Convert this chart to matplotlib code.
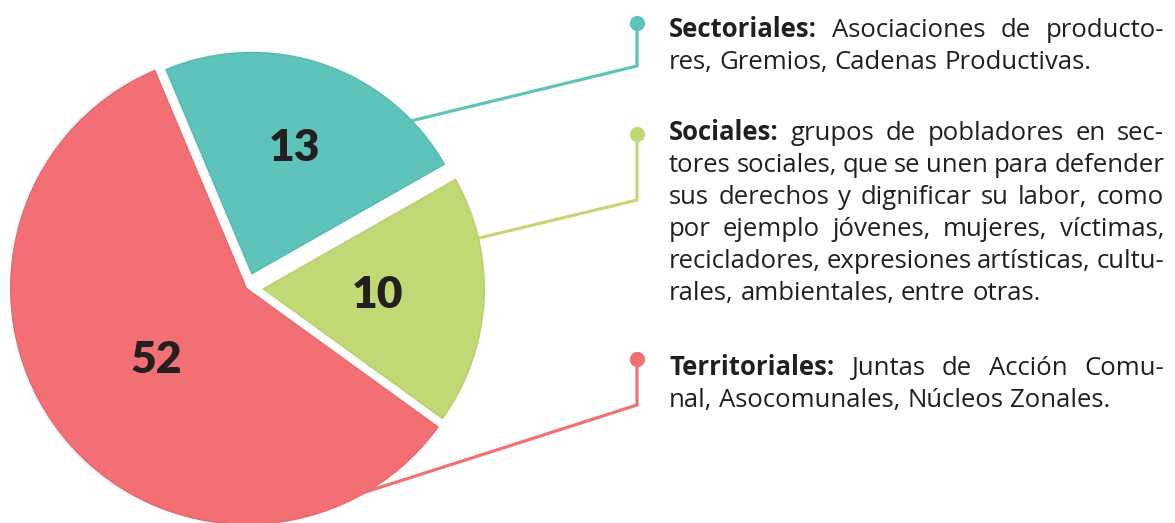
import matplotlib
matplotlib.use("Agg")
import matplotlib.pyplot as plt
from matplotlib.patches import Wedge
import numpy as np

# ---------------- data ----------------
categories = ["Sectoriales", "Sociales", "Territoriales"]
counts = [13, 10, 52]
# angular share of each slice as drawn in the reference (percent of circle)
drawn_share = [23.1, 18.2, 58.7]
colors = ["#5EC4BA", "#C1D975", "#F27074"]
edge_dark = ["#3E9A91", "#97AE52", "#C8585C"]

headers = ["Sectoriales:", "Sociales:", "Territoriales:"]
desc_lines = [
    ["Asociaciones de producto-",
     "res, Gremios, Cadenas Productivas."],
    ["grupos de pobladores en sec-",
     "tores sociales, que se unen para defender",
     "sus derechos y dignificar su labor, como",
     "por ejemplo jóvenes, mujeres, víctimas,",
     "recicladores, expresiones artísticas, cultu-",
     "rales, ambientales, entre otras."],
    ["Juntas de Acción Comu-",
     "nal, Asocomunales, Núcleos Zonales."],
]

# ---------------- layout ----------------
W, H = 1175, 523
FONT = ["Open Sans", "DejaVu Sans"]
NUMFONT = ["Lato", "DejaVu Sans"]
TXT = "#231F20"
FS = 18.5
center = (247, H - 288)
R = 237
wedge_radius = [223, 223, 237]
explode = [14, 15, 0]
label_frac = [0.60, 0.52, 0.49]

fig = plt.figure(figsize=(W / 100, H / 100), dpi=100)
ax = fig.add_axes([0, 0, 1, 1])

wedges, _ = ax.pie(drawn_share, colors=colors, explode=explode,
                   startangle=112.8, counterclock=False, radius=R,
                   center=center, wedgeprops=dict(linewidth=0))
for w, r in zip(wedges, wedge_radius):
    w.set_radius(r)
ax.set_xlim(0, W)
ax.set_ylim(0, H)
ax.set_aspect("equal")
ax.axis("off")

# subtle inner shading along the wedge edges
for w, dc in zip(wedges, edge_dark):
    s = Wedge(w.center, w.r, w.theta1, w.theta2, facecolor="none",
              edgecolor=dc, linewidth=2.5, alpha=0.18, zorder=w.get_zorder() + 0.1)
    ax.add_patch(s)
    s.set_clip_path(w)

# value labels inside wedges
for w, c, f in zip(wedges, counts, label_frac):
    tm = np.deg2rad((w.theta1 + w.theta2) / 2)
    d = f * w.r
    x = w.center[0] + d * np.cos(tm)
    y = w.center[1] + d * np.sin(tm)
    ax.text(x, y, str(c), ha="center", va="center", fontsize=32,
            fontweight="heavy", color=TXT, family=NUMFONT, zorder=5)

# connectors (image coords: y from top)
conn_start = [(390, 126), (450, 245), (350, 497)]
conn_bend = [(637, 66), (637, 200), (637, 405)]
conn_dot = [(637, 23), (637, 134), (637, 359)]
for col, s, b, d in zip(colors, conn_start, conn_bend, conn_dot):
    ax.plot([s[0], b[0], d[0]], [H - s[1], H - b[1], H - d[1]], color=col,
            lw=2.3, zorder=0.5, solid_joinstyle="miter")
    ax.plot([d[0]], [H - d[1]], "o", color=col, ms=11, mec="none", zorder=0.6)

# justified text blocks
renderer = fig.canvas.get_renderer()


def width(s, bold):
    t = ax.text(0, 0, s, fontsize=FS, fontweight="bold" if bold else "normal",
                family=FONT)
    wd = t.get_window_extent(renderer).width
    t.remove()
    return wd


space_w = width("a a", False) - width("aa", False)
X0, X1 = 669, 1164
first_baselines = [37, 140, 375]
line_step = 32

for hdr, lines, yb in zip(headers, desc_lines, first_baselines):
    for i, line in enumerate(lines):
        words = [(wd, False) for wd in line.split(" ")]
        if i == 0:
            words = [(hdr, True)] + words
        widths = [width(wd, b) for wd, b in words]
        last = i == len(lines) - 1
        if last or len(words) == 1:
            gap = space_w
        else:
            gap = (X1 - X0 - sum(widths)) / (len(words) - 1)
        x = X0
        y = H - (yb + i * line_step)
        for (wd, b), wdt in zip(words, widths):
            ax.text(x, y, wd, fontsize=FS, fontweight="bold" if b else "normal",
                    family=FONT, color=TXT, ha="left", va="baseline", zorder=5)
            x += wdt + gap

fig.savefig("out.png", dpi=100, facecolor="white")
